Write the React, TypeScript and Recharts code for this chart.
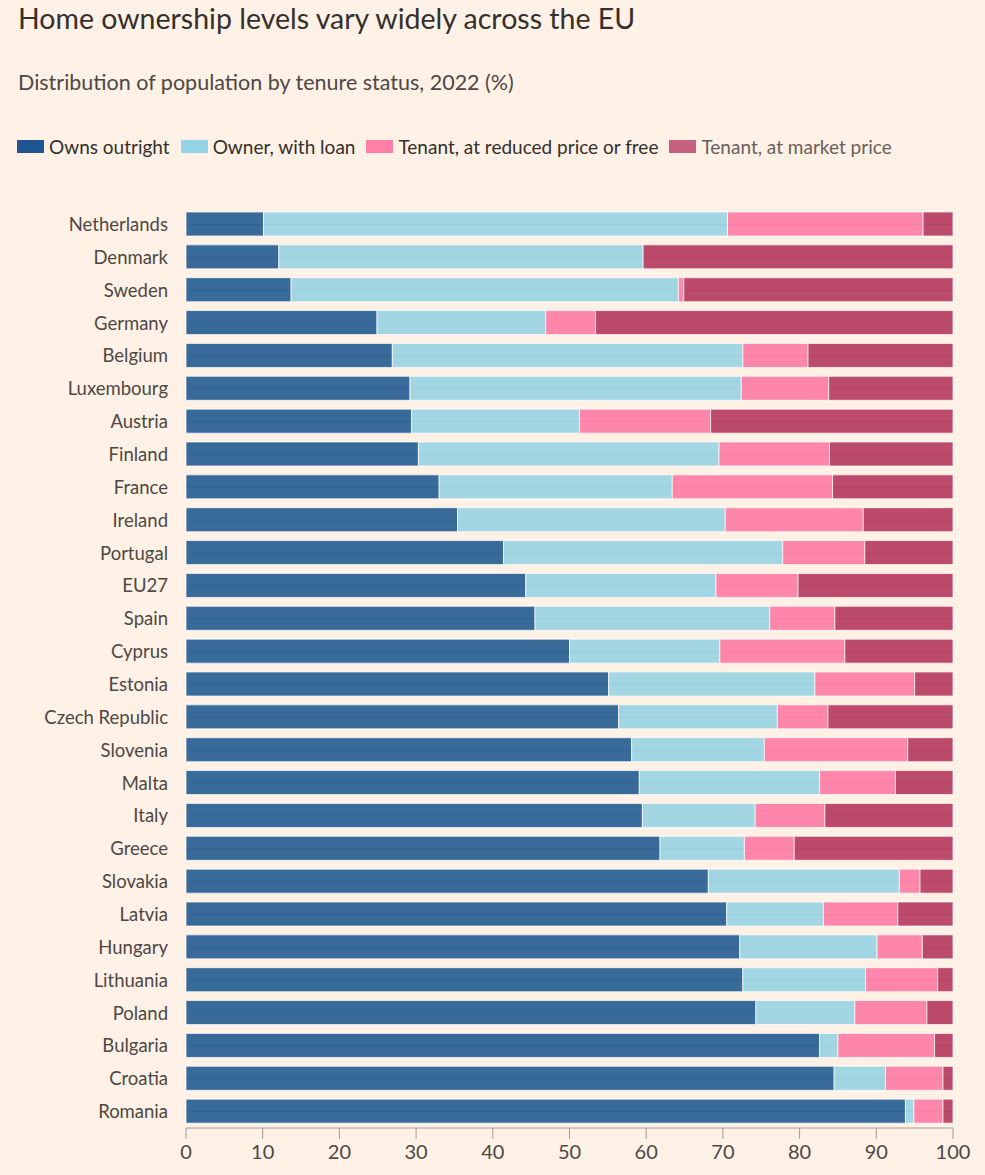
import { BarChart, Bar, XAxis, YAxis, CartesianGrid } from "recharts";

const countries = [
  "Netherlands", "Denmark", "Sweden", "Germany", "Belgium", "Luxembourg", "Austria",
  "Finland", "France", "Ireland", "Portugal", "EU27", "Spain", "Cyprus", "Estonia",
  "Czech Republic", "Slovenia", "Malta", "Italy", "Greece", "Slovakia", "Latvia",
  "Hungary", "Lithuania", "Poland", "Bulgaria", "Croatia", "Romania",
];
const ownsOutright = [
  10.1, 12.1, 13.7, 24.9, 26.9, 29.2, 29.4, 30.3, 33.0, 35.4, 41.4, 44.3, 45.5, 50.0,
  55.1, 56.4, 58.1, 59.1, 59.5, 61.8, 68.1, 70.5, 72.2, 72.6, 74.3, 82.6, 84.5, 93.8,
];
const ownerWithLoan = [
  60.5, 47.5, 50.5, 22.0, 45.7, 43.2, 21.9, 39.2, 30.4, 34.9, 36.4, 24.8, 30.6, 19.6,
  26.9, 20.7, 17.3, 23.5, 14.7, 11.0, 24.9, 12.6, 17.9, 16.0, 12.9, 2.4, 6.7, 1.1,
];
const tenantReduced = [
  25.5, 0, 0.7, 6.5, 8.5, 11.4, 17.1, 14.4, 20.9, 18.0, 10.7, 10.7, 8.5, 16.3,
  13.0, 6.6, 18.7, 9.9, 9.1, 6.5, 2.7, 9.7, 5.9, 9.4, 9.4, 12.6, 7.5, 3.8,
];
const tenantMarket = [
  3.9, 40.4, 35.1, 46.6, 18.9, 16.2, 31.6, 16.1, 15.7, 11.7, 11.5, 20.2, 15.4, 14.1,
  5.0, 16.3, 5.9, 7.5, 16.7, 20.7, 4.3, 7.2, 4.0, 2.0, 3.4, 2.4, 1.3, 1.3,
];
const xTicks = [0, 10, 20, 30, 40, 50, 60, 70, 80, 90, 100];

const series = [
  { key: "owns", name: "Owns outright", color: "#1c5690", swatch: "#1f5590", text: "#33302e" },
  { key: "loan", name: "Owner, with loan", color: "#96d2e3", swatch: "#94d3e6", text: "#33302e" },
  { key: "reduced", name: "Tenant, at reduced price or free", color: "#ff76a3", swatch: "#ff7fa7", text: "#33302e" },
  { key: "market", name: "Tenant, at market price", color: "#b3325a", swatch: "#c5617f", text: "#66605c" },
];

const data = countries.map((country, i) => ({
  country,
  owns: ownsOutright[i],
  loan: ownerWithLoan[i],
  reduced: tenantReduced[i],
  market: tenantMarket[i],
}));

const FONT = "Lato, 'Open Sans', sans-serif";

// one grid line through the middle of each row, none on the plot edges
const rowLines = ({ offset }: any) =>
  countries.map((_, i) => offset.top + ((i + 0.5) * offset.height) / countries.length);

export default function App() {
  return (
    <div
      style={{
        position: "absolute",
        left: 0,
        top: 0,
        width: 985,
        height: 1175,
        background: "#fff1e5",
        fontFamily: FONT,
        overflow: "hidden",
      }}
    >
      <div style={{ position: "absolute", left: 18, top: 1, fontSize: 28.5, color: "#33302e" }}>
        Home ownership levels vary widely across the EU
      </div>
      <div style={{ position: "absolute", left: 18, top: 69, fontSize: 21.5, color: "#4d4845" }}>
        Distribution of population by tenure status, 2022 (%)
      </div>
      <div
        style={{
          position: "absolute",
          left: 17,
          top: 135,
          display: "flex",
          alignItems: "center",
          fontSize: 19,
        }}
      >
        {series.map((s) => (
          <div key={s.key} style={{ display: "flex", alignItems: "center", marginRight: 11 }}>
            <span style={{ width: 27, height: 13, background: s.swatch, marginRight: 5, display: "inline-block" }} />
            <span style={{ color: s.text }}>{s.name}</span>
          </div>
        ))}
      </div>
      <div style={{ position: "absolute", left: 0, top: 0 }}>
        <BarChart
          width={985}
          height={1175}
          data={data}
          layout="vertical"
          margin={{ top: 208, right: 32, left: 0, bottom: 7 }}
        >
          <CartesianGrid
            horizontal
            vertical={false}
            horizontalCoordinatesGenerator={rowLines}
            stroke="#b9b0a8"
            strokeWidth={1}
          />
          <XAxis
            type="number"
            domain={[0, 100]}
            ticks={xTicks}
            height={40}
            tickSize={11}
            tickMargin={6}
            axisLine={{ stroke: "#a29c97" }}
            tickLine={{ stroke: "#a29c97" }}
            tick={{ fontSize: 20, fill: "#4d4845", fontFamily: FONT }}
          />
          <YAxis
            type="category"
            dataKey="country"
            width={186}
            axisLine={false}
            tickLine={false}
            tickSize={0}
            tickMargin={18}
            interval={0}
            tick={{ fontSize: 18.5, fill: "#4d4845", fontFamily: FONT }}
          />
          {series.map((s) => (
            <Bar
              key={s.key}
              dataKey={s.key}
              name={s.name}
              stackId="a"
              fill={s.color}
              fillOpacity={0.88}
              stroke="#ffffff"
              strokeOpacity={0.7}
              strokeWidth={1}
              barSize={24}
              isAnimationActive={false}
            />
          ))}
        </BarChart>
      </div>
    </div>
  );
}
